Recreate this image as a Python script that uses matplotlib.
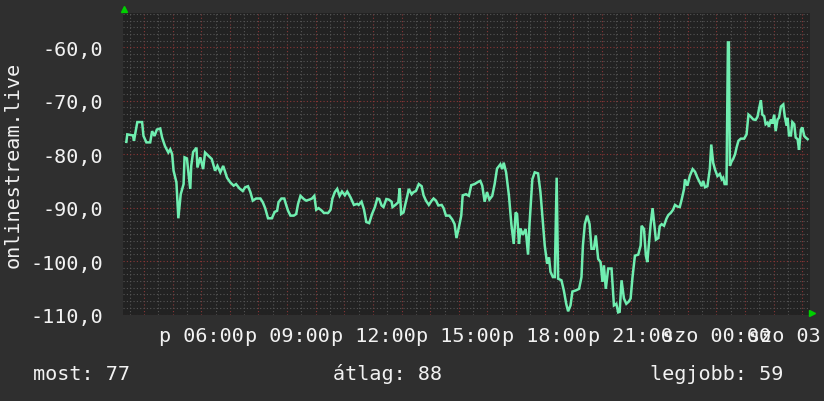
import matplotlib
matplotlib.use("Agg")
import matplotlib.pyplot as plt
from matplotlib.ticker import MultipleLocator, FuncFormatter

# minutes since Friday 00:00, signal level
minutes = [
    203, 205, 217, 219, 226, 236, 239, 245, 253, 257, 262, 267, 274, 278, 284, 291, 295, 299,
    302, 308, 312, 317, 323, 325, 330, 333, 337, 339, 343, 350, 352, 358, 364, 368, 375, 382,
    389, 394, 400, 406, 414, 421, 428, 433, 440, 447, 452, 458, 463, 468, 475, 484, 489, 494,
    500, 508, 514, 519, 522, 528, 534, 538, 542, 547, 554, 559, 563, 568, 575, 580, 587, 592,
    597, 601, 606, 613, 617, 626, 631, 635, 640, 645, 650, 655, 661, 666, 673, 680, 687, 690,
    696, 701, 706, 712, 718, 724, 729, 733, 738, 742, 748, 753, 759, 761, 767, 773, 776, 779,
    784, 788, 792, 795, 801, 805, 810, 816, 822, 826, 831, 837, 843, 847, 852, 857, 864, 868,
    873, 880, 886, 891, 895, 900, 905, 908, 915, 921, 926, 933, 940, 945, 949, 954, 959, 964,
    970, 975, 980, 987, 991, 994, 999, 1005, 1010, 1015, 1019, 1022, 1026, 1029, 1034, 1040,
    1045, 1048, 1054, 1059, 1066, 1071, 1075, 1080, 1085, 1089, 1092, 1097, 1101, 1105, 1108,
    1115, 1120, 1125, 1129, 1134, 1138, 1145, 1152, 1157, 1160, 1164, 1169, 1174, 1178, 1183,
    1187, 1192, 1197, 1201, 1204, 1208, 1213, 1220, 1225, 1230, 1234, 1237, 1241, 1246, 1251,
    1256, 1260, 1264, 1269, 1276, 1281, 1283, 1288, 1292, 1295, 1298, 1302, 1306, 1309, 1313,
    1318, 1321, 1325, 1330, 1335, 1339, 1344, 1349, 1353, 1358, 1363, 1367, 1372, 1374, 1379,
    1384, 1390, 1395, 1400, 1405, 1409, 1412, 1416, 1421, 1426, 1429, 1433, 1437, 1442, 1447,
    1451, 1454, 1457, 1461, 1464, 1466, 1468, 1472, 1475, 1479, 1482, 1486, 1491, 1498, 1503,
    1507, 1512, 1517, 1522, 1526, 1529, 1533, 1536, 1540, 1543, 1547, 1550, 1554, 1557, 1561,
    1564, 1568, 1571, 1575, 1580, 1583, 1587, 1589, 1592, 1596, 1599, 1603, 1606, 1610, 1613,
    1617, 1620, 1624, 1627, 1631,
]
level = [
    -77.7, -76.3, -76.5, -77.5, -74.0, -74.0, -76.6, -77.8, -77.8, -75.7, -76.6, -75.4, -75.2, -76.9, -78.5, -79.7, -79.1, -80.0,
    -83.1, -85.3, -92.0, -87.5, -85.6, -80.6, -80.8, -83.4, -86.5, -82.2, -79.6, -78.8, -82.5, -80.6, -82.8, -79.7, -80.3, -80.9,
    -83.1, -82.2, -83.4, -82.2, -84.4, -85.3, -85.9, -85.6, -86.4, -86.9, -86.2, -86.0, -87.1, -88.7, -88.3, -88.3, -89.0, -90.1,
    -92.0, -92.0, -90.8, -90.6, -89.0, -88.3, -88.3, -89.5, -90.6, -91.5, -91.5, -91.2, -89.3, -87.8, -88.4, -88.7, -88.5, -88.3,
    -87.8, -90.4, -90.1, -90.6, -91.0, -91.0, -90.4, -88.3, -87.1, -86.5, -87.8, -87.0, -87.7, -87.0, -88.1, -89.5, -89.3, -89.5,
    -88.9, -90.3, -92.7, -92.9, -91.2, -89.9, -88.3, -88.4, -89.6, -89.9, -88.4, -88.5, -88.9, -89.9, -89.5, -89.0, -86.4, -91.2,
    -90.9, -89.3, -87.8, -86.5, -87.5, -87.1, -86.9, -85.6, -86.0, -87.7, -88.7, -89.5, -88.7, -88.3, -88.7, -89.6, -89.5, -90.1,
    -91.5, -91.5, -92.2, -93.1, -95.7, -93.7, -91.5, -87.7, -87.5, -87.8, -85.8, -85.6, -85.2, -85.0, -85.9, -88.9, -87.1, -88.5,
    -87.8, -85.6, -82.7, -81.9, -82.8, -81.6, -83.4, -87.8, -93.1, -96.8, -90.9, -91.2, -96.8, -93.9, -95.1, -94.0,
    -98.8, -93.2, -84.7, -83.4, -83.6, -87.1, -91.5, -97.1, -100.5, -99.3, -102.0, -103.0, -103.0, -84.4, -103.3,
    -103.6, -105.5, -108.0, -109.4, -108.3, -105.7, -105.5, -105.2, -103.0, -97.1, -93.1, -91.5, -93.1, -97.7, -97.7,
    -95.2, -99.6, -100.2, -103.9, -100.8, -105.2, -101.4, -101.4, -108.3, -108.0, -109.6, -109.5, -103.6, -107.0, -108.0,
    -107.6, -107.0, -103.0, -99.0, -98.8, -97.1, -93.4, -94.0, -99.0, -100.2, -97.1, -93.1, -90.1, -92.7, -96.0,
    -95.7, -93.5, -93.1, -93.4, -92.1, -91.4, -91.0, -90.4, -89.5, -89.8, -89.9, -88.5, -86.5, -84.7, -85.9,
    -84.1, -82.8, -83.3, -84.4, -85.3, -86.0, -85.0, -86.2, -86.0, -82.8, -78.2, -81.6, -82.9, -84.1, -83.7,
    -84.7, -84.4, -85.6, -85.6, -59.1, -59.1, -82.2, -81.3, -80.9, -80.0, -78.8, -77.5, -77.1, -77.1, -76.3,
    -72.6, -73.0, -73.5, -73.6, -73.0, -71.6, -69.9, -72.6, -72.9, -74.4, -74.1, -74.9, -73.5, -74.3, -72.6,
    -75.7, -73.5, -73.2, -71.1, -70.7, -72.9, -74.7, -73.2, -76.5, -76.5, -74.0, -74.4, -76.9, -77.2, -79.2,
    -75.4, -75.0, -76.6, -76.9, -77.2,
]

y_label = "onlinestream.live"
legend_items = [("most: 77", 33), ("átlag: 88", 333), ("legjobb: 59", 650)]


def hour_label(m, pos):
    if m % 180 != 0:
        return ""
    h = int(m // 60)
    if h < 24:
        return "p %02d:00" % h
    return "szo %02d:00" % (h - 24)


W, H = 824, 402
bg = "#2f2f2f"
plot_bg = "#222222"
txt = "#f2f2f2"
mono = "DejaVu Sans Mono"
fs = 14.5

fig = plt.figure(figsize=(W / 100, H / 100), dpi=100, facecolor=bg)
ax = fig.add_axes([123 / W, (H - 315.5) / H, 687 / W, 302 / H])
ax.set_facecolor(plot_bg)

ax.plot(minutes, level, color="#70eeb0", lw=1.8, zorder=3, solid_joinstyle="miter")

ax.set_xlim(196, 1636)
ax.set_ylim(-110, -53.5)

ax.xaxis.set_major_locator(MultipleLocator(60))
ax.xaxis.set_minor_locator(MultipleLocator(30))
ax.yaxis.set_major_locator(MultipleLocator(10))
ax.yaxis.set_minor_locator(MultipleLocator(1.25))
ax.xaxis.set_major_formatter(FuncFormatter(hour_label))
ax.yaxis.set_major_formatter(FuncFormatter(lambda v, p: ("%.1f" % v).replace(".", ",")))

ax.grid(which="minor", color="#555555", lw=0.8, linestyle=(0, (1, 2)), zorder=1)
ax.grid(which="major", color="#8a3636", lw=0.8, linestyle=(0, (1, 2)), zorder=2)
ax.set_axisbelow(True)

ax.tick_params(which="both", length=0, colors=txt, labelsize=fs)
ax.tick_params(axis="x", pad=8)
ax.tick_params(axis="y", pad=14)
for lab in ax.get_xticklabels() + ax.get_yticklabels():
    lab.set_fontfamily(mono)
for s in ax.spines.values():
    s.set_visible(False)

# little green arrows at the axis ends
ax.plot([0.002], [1.012], marker="^", ms=5, color="#00d000", transform=ax.transAxes, clip_on=False)
ax.plot([1.003], [0.005], marker=">", ms=5, color="#00d000", transform=ax.transAxes, clip_on=False)

fig.text(13 / W, 1 - 164.5 / H, y_label, rotation=90, ha="center", va="center",
         color=txt, fontsize=fs, family=mono)

for text, x in legend_items:
    fig.text(x / W, 1 - 380 / H, text, ha="left", va="baseline", color=txt, fontsize=fs, family=mono)

fig.savefig("out.png", dpi=100, facecolor=bg)
